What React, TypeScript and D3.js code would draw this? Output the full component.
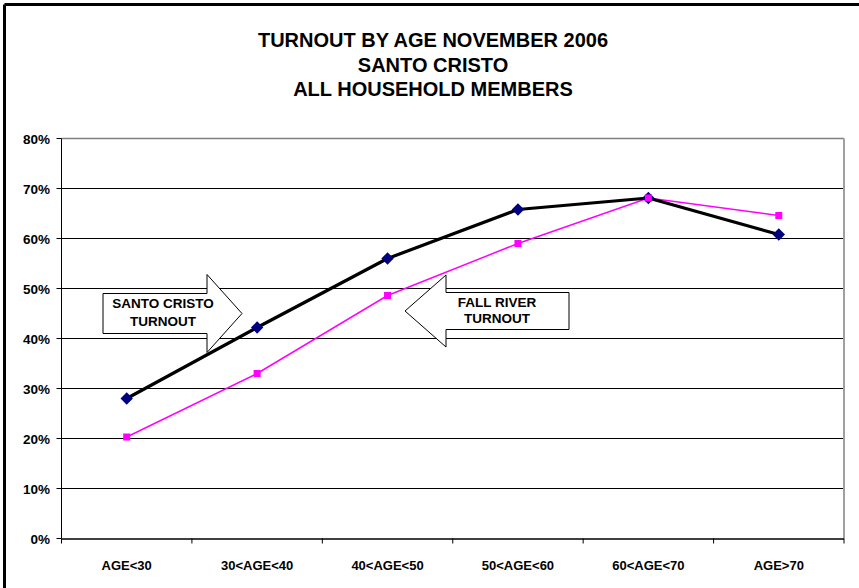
import React from "react";
import * as d3 from "d3";

// Age groups along the category axis
const categories = ["AGE<30", "30<AGE<40", "40<AGE<50", "50<AGE<60", "60<AGE<70", "AGE>70"];
// Turnout (%) per age group
const santoCristo = [28.0, 42.2, 56.0, 65.8, 68.1, 60.8];
const fallRiver = [20.3, 33.0, 48.6, 59.0, 68.1, 64.6];
const yTicks = [0, 10, 20, 30, 40, 50, 60, 70, 80];
const titleLines = ["TURNOUT BY AGE NOVEMBER 2006", "SANTO CRISTO", "ALL HOUSEHOLD MEMBERS"];

const W = 859;
const H = 588;
const plot = { left: 61.5, right: 844, top: 138.5, bottom: 538.5 };
const FONT = "'Liberation Sans', Arial, sans-serif";

export default function App() {
  const x = d3.scaleBand<string>().domain(categories).range([plot.left, plot.right]);
  const y = d3.scaleLinear().domain([0, 80]).range([plot.bottom, plot.top]);
  const cx = (c: string) => (x(c) ?? 0) + x.bandwidth() / 2;

  const line = d3
    .line<number>()
    .x((_, i) => cx(categories[i]))
    .y((v) => y(v));

  // square rotated 45 degrees
  const r = 6.2;
  const diamond = `M0,${-r} L${r},0 L0,${r} L${-r},0 Z`;
  const boundaries = categories.map((c) => x(c) ?? 0).concat([plot.right]);

  // Block-arrow callouts labelling each series
  const blockArrow = (x0: number, x1: number, x2: number, yc: number, bh: number, hh: number) =>
    `M${x0},${yc - bh / 2} L${x1},${yc - bh / 2} L${x1},${yc - hh / 2} L${x2},${yc} L${x1},${yc + hh / 2} L${x1},${yc + bh / 2} L${x0},${yc + bh / 2} Z`;

  return (
    <svg
      width={W}
      height={H}
      style={{ position: "absolute", left: 0, top: 0, background: "#fff" }}
      fontFamily={FONT}
    >
      {/* outer frame (top and left edges) */}
      <line x1={4.5} y1={4.5} x2={W} y2={4.5} stroke="#000" strokeWidth={3} />
      <line x1={4.5} y1={4.5} x2={4.5} y2={H} stroke="#000" strokeWidth={3} />

      {/* title */}
      {titleLines.map((t, i) => (
        <text
          key={t}
          x={433}
          y={47 + i * 24.5}
          textAnchor="middle"
          fontSize={20}
          fontWeight="bold"
        >
          {t}
        </text>
      ))}

      {/* gridlines */}
      {yTicks.slice(1, -1).map((t) => (
        <line key={t} x1={plot.left} x2={plot.right} y1={y(t)} y2={y(t)} stroke="#000" strokeWidth={1} />
      ))}
      {/* plot area border */}
      <line x1={plot.left} x2={plot.right} y1={y(80)} y2={y(80)} stroke="#808080" strokeWidth={1.5} />
      <line x1={plot.right} x2={plot.right} y1={y(80)} y2={plot.bottom} stroke="#a0a0a0" strokeWidth={2} />

      {/* y axis */}
      <line x1={plot.left} x2={plot.left} y1={plot.top} y2={plot.bottom} stroke="#000" strokeWidth={1} />
      {yTicks.map((t) => (
        <g key={t}>
          <line x1={plot.left - 5} x2={plot.left} y1={y(t)} y2={y(t)} stroke="#000" />
          <text x={50} y={y(t) + 5} textAnchor="end" fontSize={13.5} fontWeight="bold">
            {`${t}%`}
          </text>
        </g>
      ))}

      {/* x axis */}
      <line x1={plot.left} x2={plot.right} y1={plot.bottom + 0.5} y2={plot.bottom + 0.5} stroke="#404040" strokeWidth={2} />
      {boundaries.map((b, i) => (
        <line key={i} x1={b} x2={b} y1={plot.bottom} y2={plot.bottom + 5} stroke="#000" />
      ))}
      {categories.map((c) => (
        <text key={c} x={cx(c)} y={570} textAnchor="middle" fontSize={13} fontWeight="bold">
          {c}
        </text>
      ))}

      {/* Fall River series */}
      <path d={line(fallRiver) ?? ""} fill="none" stroke="#ff00ff" strokeWidth={1.5} />
      {fallRiver.map((v, i) => (
        <rect key={i} x={cx(categories[i]) - 3.5} y={y(v) - 3.5} width={7} height={7} fill="#ff00ff" />
      ))}

      {/* Santo Cristo series */}
      <path d={line(santoCristo) ?? ""} fill="none" stroke="#000" strokeWidth={3.2} strokeLinejoin="round" />
      {santoCristo.map((v, i) => (
        <path key={i} d={diamond} transform={`translate(${cx(categories[i])},${y(v)})`} fill="#000080" />
      ))}
      {/* Fall River marker drawn over the shared point */}
      <rect x={cx(categories[4]) - 3.5} y={y(fallRiver[4]) - 3.5} width={7} height={7} fill="#ff00ff" />

      {/* callout arrows */}
      <path d={blockArrow(103, 207, 242, 313.5, 40, 78)} fill="#fff" stroke="#000" strokeWidth={1} />
      <text x={163} y={308} textAnchor="middle" fontSize={13.5} fontWeight="bold">SANTO CRISTO</text>
      <text x={163} y={326} textAnchor="middle" fontSize={13.5} fontWeight="bold">TURNOUT</text>

      <path d={blockArrow(569, 446, 405, 311, 37, 72)} fill="#fff" stroke="#000" strokeWidth={1} />
      <text x={497} y={307} textAnchor="middle" fontSize={13.5} fontWeight="bold">FALL RIVER</text>
      <text x={497} y={323} textAnchor="middle" fontSize={13.5} fontWeight="bold">TURNOUT</text>
    </svg>
  );
}
